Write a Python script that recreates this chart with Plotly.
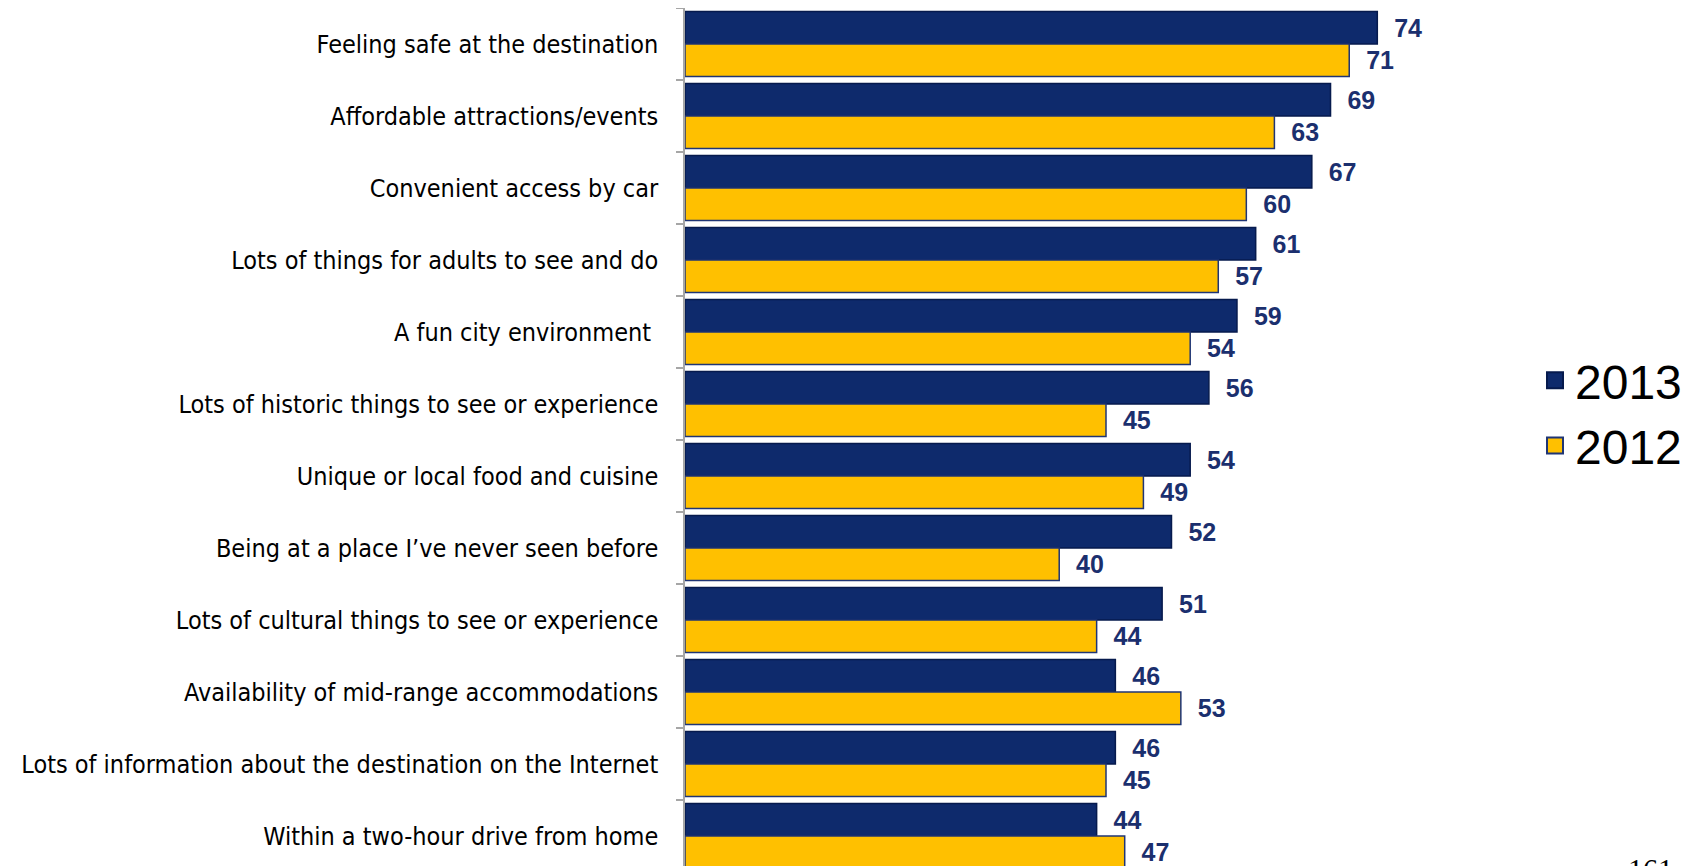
import plotly.graph_objects as go

categories = [
    "Feeling safe at the destination",
    "Affordable attractions/events",
    "Convenient access by car",
    "Lots of things for adults to see and do",
    "A fun city environment\u00a0",
    "Lots of historic things to see or experience",
    "Unique or local food and cuisine",
    "Being at a place I\u2019ve never seen before",
    "Lots of cultural things to see or experience",
    "Availability of mid-range accommodations",
    "Lots of information about the destination on the Internet",
    "Within a two-hour drive from home",
]
vals_2013 = [74, 69, 67, 61, 59, 56, 54, 52, 51, 46, 46, 44]
vals_2012 = [71, 63, 60, 57, 54, 45, 49, 40, 44, 53, 45, 47]
series_names = ["2013", "2012"]
page_number = "161"

NAVY = "#0e2a6c"
NAVY_EDGE = "#061a4d"
GOLD = "#ffc000"
LABEL_NAVY = "#1b2f6e"
AXIS_GREY = "#a6a6a6"
CONDENSED = "DejaVu Sans Condensed, Liberation Sans Narrow, sans-serif"

# the page body has an 8px margin, so the figure is 8px smaller than the window
W, H = 1690, 858
ROW = 72

fig = go.Figure()
for name, vals, fill, edge in [
    (series_names[0], vals_2013, NAVY, NAVY_EDGE),
    (series_names[1], vals_2012, GOLD, "#1f3575"),
]:
    fig.add_trace(go.Bar(
        y=categories, x=vals, orientation="h", name=name,
        marker=dict(color=fill, line=dict(color=edge, width=1.5)),
        text=vals, texttemplate="\u00a0\u00a0%{text}",
        textposition="outside", cliponaxis=False,
        textfont=dict(family="Liberation Sans, Arial, sans-serif", size=25,
                      color=LABEL_NAVY, weight="bold"),
        showlegend=False, hoverinfo="skip",
    ))
    # legend-only entry with a bigger square swatch
    fig.add_trace(go.Scatter(
        x=[None], y=[None], mode="markers", name=name, legendgroup=name,
        marker=dict(symbol="square", size=22, color=fill,
                    line=dict(color=edge, width=2)),
    ))

fig.add_annotation(
    text=page_number, xref="paper", yref="paper", x=1.147, y=0.0,
    xanchor="center", yanchor="top", yshift=16, showarrow=False,
    font=dict(family="Liberation Serif, Times New Roman, serif", size=30, color="#000"),
)

fig.update_layout(
    width=W, height=H,
    barmode="group", bargap=0.1, bargroupgap=0.0,
    plot_bgcolor="white", paper_bgcolor="white",
    margin=dict(l=677, r=171, t=0, b=0, autoexpand=False),
    xaxis=dict(range=[0, 90], visible=False),
    yaxis=dict(
        type="category", categoryorder="array", categoryarray=categories,
        range=[-0.5 + H / ROW, -0.5], automargin=False,
        tickson="boundaries", ticks="outside", ticklen=7, tickwidth=1.5,
        tickcolor=AXIS_GREY, showline=True, linecolor=AXIS_GREY, linewidth=1.5,
        showgrid=False, ticklabelstandoff=20,
        tickfont=dict(family=CONDENSED, size=25, color="#000"),
    ),
    legend=dict(
        x=1.0095, y=0.528, xanchor="left", yanchor="middle",
        traceorder="normal", tracegroupgap=8,
        font=dict(family="Liberation Sans, Arial, sans-serif", size=48, color="#000"),
        itemsizing="trace", bgcolor="rgba(0,0,0,0)",
    ),
)

fig.write_html("out.html")
